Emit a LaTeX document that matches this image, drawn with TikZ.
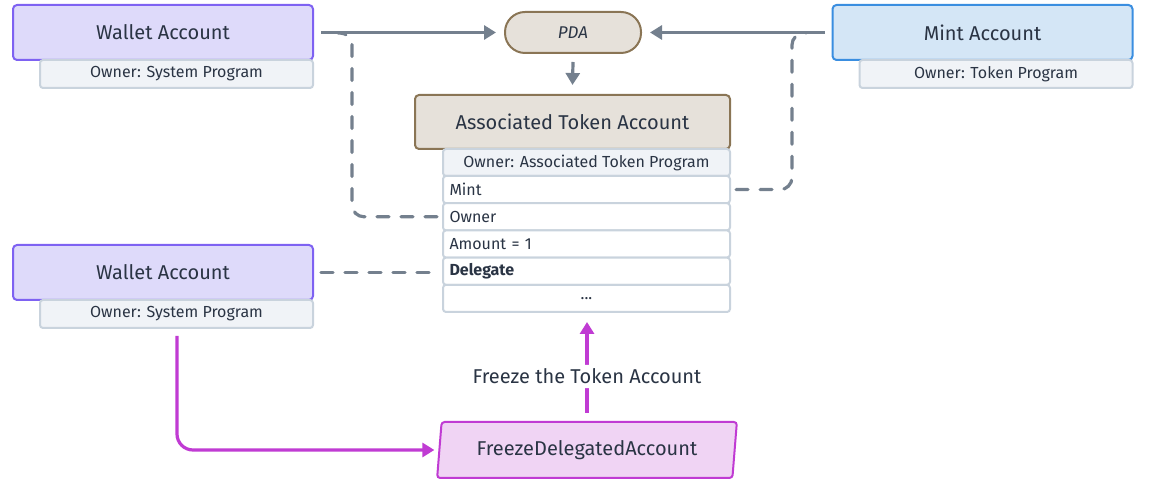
\documentclass[tikz,border=0pt]{standalone}
\usepackage{fontspec}
\setmainfont{Fira Sans}
\usepackage{xcolor}
\definecolor{inktext}{HTML}{2A3444}
\definecolor{walletfill}{HTML}{DEDAFA}
\definecolor{walletline}{HTML}{7E62F2}
\definecolor{mintfill}{HTML}{D4E6F6}
\definecolor{mintline}{HTML}{3A8EE0}
\definecolor{atafill}{HTML}{E6E1DA}
\definecolor{ataline}{HTML}{8A7555}
\definecolor{ownerfill}{HTML}{F0F3F7}
\definecolor{ownerline}{HTML}{C9D3DD}
\definecolor{linkgray}{HTML}{74808E}
\definecolor{freezeline}{HTML}{C03BD3}
\definecolor{freezefill}{HTML}{F0D4F4}
\usepackage{tikz}
\usetikzlibrary{
  positioning,
  arrows.meta,
  shapes.geometric
}

\begin{document}
\begin{tikzpicture}[
  x=0.5pt, y=-0.5pt,
  >={Triangle[length=6pt,width=7pt]},
  every node/.style={text=inktext},
  accountbox/.style={
    rectangle, rounded corners=2pt, minimum width=150pt, minimum height=27.5pt,
    inner sep=0pt, outer sep=0pt, font=\fontsize{10}{12}\selectfont, draw,
    line width=1pt
  },
  ownerbox/.style={
    rectangle, rounded corners=1.5pt, minimum width=136.5pt, minimum height=14pt,
    inner sep=0pt, outer sep=0pt, font=\fontsize{8}{10}\selectfont,
    draw=ownerline, fill=ownerfill, line width=1pt
  },
  fieldrow/.style={
    rectangle, rounded corners=1.5pt, minimum width=143.5pt, minimum height=13.6pt,
    text width=137pt, inner sep=0pt, outer sep=0pt, align=left,
    font=\fontsize{8}{10}\selectfont, draw=ownerline, fill=white, line width=1pt
  },
  link/.style={linkgray, line width=1.6pt},
  reflink/.style={linkgray, line width=1.6pt, line cap=round,
    dash pattern=on 6pt off 6pt, rounded corners=6pt},
  callflow/.style={freezeline, line width=1.6pt, rounded corners=8pt}
]
\useasboundingbox (0,0) rectangle (1161,490);

% top row
\node[accountbox, draw=walletline, fill=walletfill] (wallet) at (163,32.5) {Wallet Account};
\node[ownerbox, below left=0pt of wallet.south east] (walletown) {Owner: System Program};

\node[rectangle, rounded corners=10pt, minimum width=68pt, minimum height=20.5pt,
  draw=ataline, fill=atafill, line width=1pt, font=\fontsize{8.5}{10}\selectfont\itshape]
  (pda) at (573,32.5) {PDA};

\node[accountbox, draw=mintline, fill=mintfill] (mint) at (982.5,32.5) {Mint Account};
\node[ownerbox, below left=0pt of mint.south east] (mintown) {Owner: Token Program};

% associated token account and its fields
\node[accountbox, minimum width=157.5pt, minimum height=27pt, draw=ataline, fill=atafill]
  (ata) at (572.5,122) {Associated Token Account};
\node[ownerbox, minimum width=143.5pt, minimum height=13.5pt,
  below left=0pt of ata.south east] (ataown) {Owner: Associated Token Program};
\node[fieldrow, below=0pt of ataown] (fmint) {Mint};
\node[fieldrow, below=0pt of fmint] (fowner) {Owner};
\node[fieldrow, below=0pt of fowner] (famount) {Amount = 1};
\node[fieldrow, below=0pt of famount] (fdelegate) {\textbf{Delegate}};
\node[fieldrow, below=0pt of fdelegate, align=center] (fmore) {...};

% delegate wallet
\node[accountbox, draw=walletline, fill=walletfill] (delegate) at (163,272.5) {Wallet Account};
\node[ownerbox, below left=0pt of delegate.south east] (delegateown) {Owner: System Program};

% instruction
\node[trapezium, trapezium left angle=80, trapezium right angle=100,
  trapezium stretches=true, minimum width=150pt, minimum height=28pt, inner sep=0pt,
  draw=freezeline, fill=freezefill, line width=1pt, rounded corners=1.5pt,
  font=\fontsize{10}{12}\selectfont] (freeze) at (587,450) {FreezeDelegatedAccount};

\coordinate (wtail) at (352,33);
\coordinate (mtail) at (792,33);

\draw[link, ->] ([xshift=4pt]wallet.east) -- ([xshift=-4pt]pda.west);
\draw[link, ->] ([xshift=-4pt]mint.west) -- ([xshift=4pt]pda.east);
\draw[link, ->] ([yshift=-4pt]pda.south) -- ([yshift=5pt]ata.north);

\draw[reflink] ([xshift=-3pt]fowner.west) -| (wtail) -- ++(-14,0);
\draw[reflink] ([xshift=3pt]fmint.east) -| (mtail) -- ++(14,0);
\draw[reflink] ([xshift=4pt]delegate.east) -- ([xshift=-3pt]delegate.east -| fdelegate.west);

\draw[callflow, ->] ([yshift=-4pt]delegateown.south -| 177,0) |- ([xshift=-2pt]freeze.west);
\draw[callflow, ->] ([yshift=4pt]freeze.north) -- node[pos=0.4, fill=white, inner sep=2pt,
  font=\fontsize{10}{12}\selectfont] (freezelbl) {Freeze the Token Account}
  ([yshift=-5pt]fmore.south -| freeze.north);

\end{tikzpicture}
\end{document}
